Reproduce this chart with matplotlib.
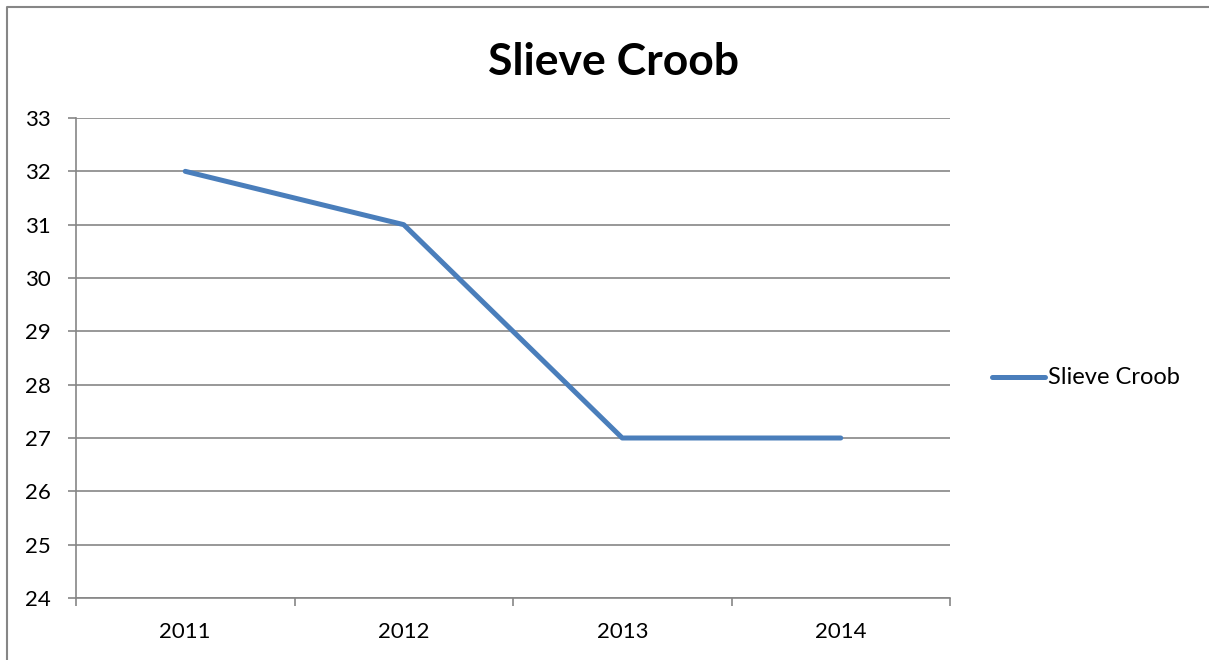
import matplotlib
matplotlib.use('Agg')
import matplotlib.pyplot as plt
from matplotlib.lines import Line2D

years = ['2011', '2012', '2013', '2014']
values = [32, 31, 27, 27]
series_name = 'Slieve Croob'
y_ticks = list(range(24, 34))

plt.rcParams['font.family'] = ['Lato', 'DejaVu Sans']

W, H = 1209, 660
fig = plt.figure(figsize=(W / 100, H / 100), dpi=100)

# plot area in pixel coords
left, right, top, bottom = 76, 950, 118, 598
ax = fig.add_axes([left / W, 1 - bottom / H, (right - left) / W, (bottom - top) / H])

grid_col = '#868686'
line_col = '#4A7EBB'

# categories sit in the middle of each band, ticks on the band edges
x = [i + 0.5 for i in range(len(years))]
ax.plot(x, values, color=line_col, lw=3.6, solid_capstyle='round', solid_joinstyle='round', zorder=3)

ax.set_xlim(0, len(years))
ax.set_ylim(y_ticks[0], y_ticks[-1])
ax.set_yticks(y_ticks)
ax.set_yticklabels([str(v) for v in y_ticks], fontsize=16)
ax.set_xticks(range(len(years) + 1))
ax.set_xticklabels([])
for xi, lab in zip(x, years):
    ax.annotate(lab, (xi, 0), xycoords=('data', 'axes fraction'), xytext=(0, -24.5),
                textcoords='offset points', ha='center', va='center', fontsize=16)

ax.yaxis.grid(True, color=grid_col, lw=1.2)
ax.set_axisbelow(True)
for s in ['top', 'right']:
    ax.spines[s].set_visible(False)
for s in ['left', 'bottom']:
    ax.spines[s].set_color(grid_col)
    ax.spines[s].set_linewidth(1.2)
ax.tick_params(axis='both', color=grid_col, width=1.2, length=6, pad=12)
ax.tick_params(axis='x', pad=0)

fig.text(613 / W, 1 - 62 / H, series_name, ha='center', va='center', fontsize=32, fontweight='bold')

# legend entry
fig.add_artist(Line2D([992 / W, 1045 / W], [1 - 377 / H, 1 - 377 / H], color=line_col, lw=3.6,
                      solid_capstyle='round'))
fig.text(1048 / W, 1 - 377 / H, series_name, ha='left', va='center', fontsize=17)

# chart border
fig.add_artist(Line2D([7 / W, 7 / W, 1.0], [0, 1 - 7 / H, 1 - 7 / H], color=grid_col, lw=1.5))

fig.savefig('out.png', dpi=100)
